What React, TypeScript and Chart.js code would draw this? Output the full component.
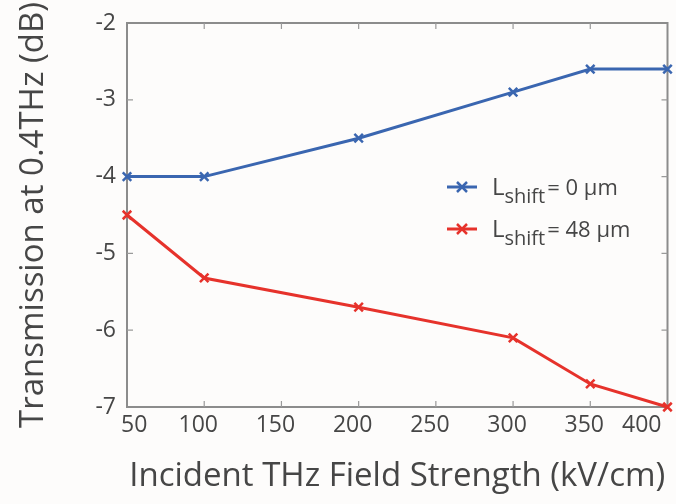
import React, { useEffect, useRef } from "react";
import { Chart, registerables } from "chart.js";

Chart.register(...registerables);

// ---- data ----
const fieldStrength = [50, 100, 200, 300, 350, 400];
const shift0 = [-4.0, -4.0, -3.5, -2.9, -2.6, -2.6];
const shift48 = [-4.5, -5.32, -5.7, -6.1, -6.7, -7.0];
const xTickValues = [50, 100, 150, 200, 250, 300, 350, 400];
const yTickValues = [-7, -6, -5, -4, -3, -2];
const legendMain = ["L", "L"];
const legendSub = ["shift", "shift"];
const legendRest = ["= 0 µm", "= 48 µm"];
const xTitle = "Incident THz Field Strength (kV/cm)";
const yTitle = "Transmission at 0.4THz (dB)";

const BLUE = "#3a66b0";
const RED = "#e6322b";
const TEXT = "#464646";
const FONT = "'Open Sans', 'DejaVu Sans', sans-serif";

const framePlugin = {
  id: "frame",
  beforeDatasetsDraw(chart: any) {
    const { ctx, chartArea: a, scales } = chart;
    ctx.save();
    ctx.strokeStyle = "#8c8c8c";
    ctx.lineWidth = 2;
    ctx.strokeRect(a.left, a.top, a.right - a.left, a.bottom - a.top);
    ctx.lineWidth = 1.2;
    ctx.strokeStyle = "#9a9a9a";
    const tl = 6;
    xTickValues.forEach((v) => {
      const x = scales.x.getPixelForValue(v);
      if (x <= a.left + 1 || x >= a.right - 1) return;
      ctx.beginPath();
      ctx.moveTo(x, a.bottom);
      ctx.lineTo(x, a.bottom - tl);
      ctx.moveTo(x, a.top);
      ctx.lineTo(x, a.top + tl);
      ctx.stroke();
    });
    yTickValues.forEach((v) => {
      const y = scales.y.getPixelForValue(v);
      if (y <= a.top + 1 || y >= a.bottom - 1) return;
      ctx.beginPath();
      ctx.moveTo(a.left, y);
      ctx.lineTo(a.left + tl, y);
      ctx.moveTo(a.right, y);
      ctx.lineTo(a.right - tl, y);
      ctx.stroke();
    });
    ctx.restore();
  },
  afterDatasetsDraw(chart: any) {
    const { ctx, chartArea: a } = chart;
    const colors = [BLUE, RED];
    const lx = a.left + 320;
    const ly0 = a.top + 164;
    const gap = 42;
    ctx.save();
    colors.forEach((c, i) => {
      const y = ly0 + i * gap;
      ctx.strokeStyle = c;
      ctx.lineWidth = 3;
      ctx.beginPath();
      ctx.moveTo(lx, y);
      ctx.lineTo(lx + 30, y);
      ctx.stroke();
      const cx = lx + 15;
      const r = 5;
      ctx.lineWidth = 2.5;
      ctx.beginPath();
      ctx.moveTo(cx - r, y - r);
      ctx.lineTo(cx + r, y + r);
      ctx.moveTo(cx - r, y + r);
      ctx.lineTo(cx + r, y - r);
      ctx.stroke();
      ctx.fillStyle = TEXT;
      ctx.textBaseline = "alphabetic";
      ctx.textAlign = "left";
      let tx = lx + 45;
      ctx.font = `24px ${FONT}`;
      ctx.fillText(legendMain[i], tx, y + 8);
      tx += ctx.measureText(legendMain[i]).width;
      ctx.font = `20px ${FONT}`;
      ctx.fillText(legendSub[i], tx, y + 16);
      tx += ctx.measureText(legendSub[i]).width + 2;
      ctx.font = `22px ${FONT}`;
      ctx.fillText(legendRest[i], tx, y + 8);
    });
    ctx.restore();
  },
};

export default function App() {
  const ref = useRef<HTMLCanvasElement>(null);
  useEffect(() => {
    if (!ref.current) return;
    const chart = new Chart(ref.current, {
      type: "line",
      data: {
        datasets: [
          {
            label: "L_shift = 0 µm",
            data: fieldStrength.map((x, i) => ({ x, y: shift0[i] })),
            borderColor: BLUE,
            backgroundColor: BLUE,
            borderWidth: 3,
            pointStyle: "crossRot",
            pointRadius: 6,
            pointBorderWidth: 2.5,
            clip: false as any,
          },
          {
            label: "L_shift = 48 µm",
            data: fieldStrength.map((x, i) => ({ x, y: shift48[i] })),
            borderColor: RED,
            backgroundColor: RED,
            borderWidth: 3,
            pointStyle: "crossRot",
            pointRadius: 6,
            pointBorderWidth: 2.5,
            clip: false as any,
          },
        ],
      },
      options: {
        animation: false,
        responsive: false,
        layout: { padding: { top: 23, right: 4, left: 0, bottom: 0 } },
        plugins: { legend: { display: false }, tooltip: { enabled: false } },
        scales: {
          x: {
            type: "linear",
            min: 50,
            max: 400,
            grid: { display: false, drawTicks: false },
            border: { display: false },
            afterBuildTicks: (s: any) => {
              s.ticks = xTickValues.map((v) => ({ value: v }));
            },
            ticks: {
              font: { family: FONT, size: 23 },
              color: TEXT,
              padding: 5,
              align: "inner",
              labelOffset: -6,
              maxRotation: 0,
              autoSkip: false,
            },
            title: {
              display: true,
              text: xTitle,
              font: { family: FONT, size: 33 },
              color: TEXT,
              padding: { top: 0, bottom: 8 },
            },
            afterFit: (s: any) => {
              s.height = 97;
              s.paddingLeft = 0;
              s.paddingRight = 0;
            },
          },
          y: {
            type: "linear",
            min: -7,
            max: -2,
            grid: { display: false, drawTicks: false },
            border: { display: false },
            afterBuildTicks: (s: any) => {
              s.ticks = yTickValues.map((v) => ({ value: v }));
            },
            ticks: {
              font: { family: FONT, size: 23 },
              color: TEXT,
              padding: 11,
              autoSkip: false,
            },
            title: {
              display: true,
              text: yTitle,
              font: { family: FONT, size: 33 },
              color: TEXT,
              padding: { top: 14, bottom: 0 },
            },
            afterFit: (s: any) => {
              s.width = 127;
              s.paddingTop = 0;
              s.paddingBottom = 0;
            },
          },
        },
      },
      plugins: [framePlugin],
    } as any);
    return () => chart.destroy();
  }, []);
  return (
    <div style={{ position: "absolute", left: 0, top: 0, width: 676, height: 504, background: "#fdfcfb" }}>
      <canvas ref={ref} width={676} height={504} />
    </div>
  );
}
